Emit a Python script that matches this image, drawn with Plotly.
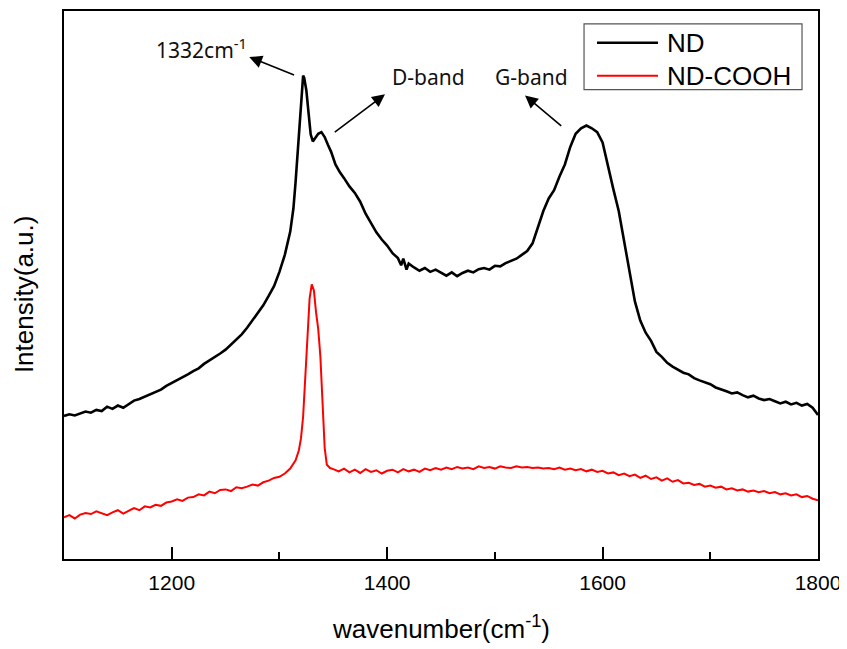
import plotly.graph_objects as go

# ---- data ----
nd_wavenumber = [1100, 1105, 1110, 1115, 1120, 1125, 1130, 1135, 1140, 1145, 1150, 1155, 1160, 1165, 1170, 1175,
                 1180, 1185, 1190, 1195, 1200, 1205, 1210, 1215, 1220, 1225, 1230, 1235, 1240, 1245, 1250, 1255,
                 1260, 1265, 1270, 1275, 1280, 1285, 1290, 1295, 1300, 1305, 1310, 1313, 1315, 1317, 1319, 1321,
                 1322, 1323, 1325, 1327, 1329, 1331, 1333, 1336, 1339, 1342, 1345, 1348, 1352, 1356, 1360, 1365,
                 1370, 1375, 1380, 1385, 1390, 1395, 1400, 1405, 1410, 1413, 1415, 1418, 1420, 1425, 1430, 1435,
                 1440, 1445, 1450, 1455, 1460, 1465, 1470, 1475, 1480, 1485, 1490, 1495, 1500, 1505, 1510, 1515,
                 1520, 1525, 1530, 1535, 1540, 1545, 1550, 1555, 1560, 1565, 1570, 1575, 1580, 1585, 1590, 1595,
                 1600, 1605, 1610, 1615, 1620, 1625, 1630, 1635, 1640, 1645, 1650, 1655, 1660, 1665, 1670, 1675,
                 1680, 1685, 1690, 1695, 1700, 1705, 1710, 1715, 1720, 1725, 1730, 1735, 1740, 1745, 1750, 1755,
                 1760, 1765, 1770, 1775, 1780, 1785, 1790, 1795, 1800]
nd_intensity = [26.1, 26.4, 26.2, 26.6, 26.9, 26.7, 27.2, 27.0, 27.8, 27.4, 28.0, 27.6, 28.3, 28.9, 29.2, 29.6,
                30.0, 30.4, 30.9, 31.6, 32.1, 32.6, 33.2, 33.7, 34.3, 34.8, 35.6, 36.2, 36.9, 37.5, 38.2, 39.1,
                40.0, 41.0, 42.2, 43.5, 44.9, 46.3, 48.0, 49.8, 52.4, 55.5, 59.7, 64.0, 68.8, 74.0, 79.7, 86.0,
                88.2, 87.8, 85.5, 81.5, 77.5, 76.2, 76.8, 77.6, 77.9, 77.0, 75.6, 74.3, 72.0, 70.6, 69.5, 68.0,
                66.8, 65.2, 63.0, 61.3, 59.6, 58.3, 57.2, 55.8, 54.9, 53.6, 54.8, 52.8, 53.9, 53.2, 52.6, 53.1,
                52.4, 52.8, 52.2, 51.7, 52.3, 51.6, 52.2, 52.6, 52.3, 52.9, 53.1, 52.8, 53.5, 53.4, 54.0, 54.4,
                54.8, 55.5, 56.2, 57.6, 60.5, 63.5, 65.8, 67.3, 69.8, 72.0, 75.2, 77.6, 78.6, 79.1, 78.6, 77.9,
                76.0, 71.5, 67.5, 63.5, 58.0, 53.0, 47.0, 43.5, 41.3, 39.8, 37.8, 36.9, 35.8, 35.1, 34.6, 34.0,
                33.7, 33.0, 32.6, 32.2, 31.9, 31.3, 31.0, 30.6, 30.2, 30.4, 29.9, 29.5, 29.8, 29.3, 29.0, 29.2,
                28.8, 28.4, 28.7, 28.2, 28.5, 28.0, 28.3, 27.6, 26.3]

cooh_wavenumber = [1100, 1105, 1110, 1115, 1120, 1125, 1130, 1135, 1140, 1145, 1150, 1155, 1160, 1165, 1170, 1175,
                   1180, 1185, 1190, 1195, 1200, 1205, 1210, 1215, 1220, 1225, 1230, 1235, 1240, 1245, 1250, 1255,
                   1260, 1265, 1270, 1275, 1280, 1285, 1290, 1295, 1300, 1305, 1310, 1315, 1318, 1320, 1322, 1324,
                   1326, 1328, 1330, 1332, 1334, 1336, 1338, 1340, 1342, 1344, 1347, 1350, 1355, 1360, 1365, 1370,
                   1375, 1380, 1385, 1390, 1395, 1400, 1405, 1410, 1415, 1420, 1425, 1430, 1435, 1440, 1445, 1450,
                   1455, 1460, 1465, 1470, 1475, 1480, 1485, 1490, 1495, 1500, 1505, 1510, 1515, 1520, 1525, 1530,
                   1535, 1540, 1545, 1550, 1555, 1560, 1565, 1570, 1575, 1580, 1585, 1590, 1595, 1600, 1605, 1610,
                   1615, 1620, 1625, 1630, 1635, 1640, 1645, 1650, 1655, 1660, 1665, 1670, 1675, 1680, 1685, 1690,
                   1695, 1700, 1705, 1710, 1715, 1720, 1725, 1730, 1735, 1740, 1745, 1750, 1755, 1760, 1765, 1770,
                   1775, 1780, 1785, 1790, 1795, 1800]
cooh_intensity = [7.6, 8.0, 7.4, 8.1, 8.4, 8.2, 8.7, 8.4, 8.0, 8.5, 8.9, 8.3, 8.8, 9.3, 8.9, 9.6,
                  9.4, 9.9, 9.7, 10.3, 10.5, 10.9, 10.6, 11.2, 11.3, 11.8, 11.6, 12.3, 12.0, 12.6, 12.7, 12.4,
                  13.1, 12.9, 13.2, 13.6, 13.4, 14.0, 14.3, 14.8, 15.0, 15.6, 16.5, 18.0, 19.8, 22.0, 26.0, 33.0,
                  42.1, 47.5, 50.1, 49.0, 45.0, 42.0, 37.0, 27.5, 20.3, 17.2, 16.6, 16.4, 16.0, 16.5, 15.8, 16.3,
                  15.7, 16.4, 15.9, 16.2, 15.6, 16.1, 16.3, 15.8, 16.4, 16.0, 16.3, 15.9, 16.5, 16.2, 16.6, 16.3,
                  16.7, 16.4, 16.8, 16.5, 16.7, 16.4, 16.9, 16.6, 16.8, 16.5, 16.9, 16.7, 16.6, 16.9, 16.7, 16.8,
                  16.6, 16.7, 16.5, 16.6, 16.4, 16.7, 16.3, 16.5, 16.2, 16.4, 16.0, 16.3, 15.9, 16.1, 15.6, 15.8,
                  15.3, 15.6, 15.1, 15.4, 14.8, 15.2, 14.6, 14.9, 14.3, 14.7, 14.1, 14.4, 13.8, 13.9, 13.5, 13.7,
                  13.2, 13.4, 13.0, 13.2, 12.7, 12.9, 12.5, 12.7, 12.3, 12.5, 12.2, 12.4, 12.0, 12.2, 11.8, 12.0,
                  11.6, 11.8, 11.3, 11.5, 11.0, 10.7]

series_names = ["ND", "ND-COOH"]
series_colors = ["#000000", "#ff0000"]
x_tick_values = [1200, 1400, 1600, 1800]
x_tick_labels = ["1200", "1400", "1600", "1800"]

# annotation labels: (text, x, y) and arrows: (head_x, head_y, tail_x, tail_y)
label_texts = ["1332cm<sup>-1</sup>", "D-band", "G-band"]
label_x = [1228, 1438, 1534]
label_y = [93.1, 88.0, 88.0]
arrow_head_x = [1272, 1398, 1528]
arrow_head_y = [91.6, 84.8, 84.6]
arrow_tail_x = [1315, 1350, 1563]
arrow_tail_y = [88.2, 77.7, 78.8]

fig = go.Figure()
fig.add_trace(go.Scatter(x=nd_wavenumber, y=nd_intensity, mode="lines", name=series_names[0],
                         line=dict(color=series_colors[0], width=2.6), showlegend=False))
fig.add_trace(go.Scatter(x=cooh_wavenumber, y=cooh_intensity, mode="lines", name=series_names[1],
                         line=dict(color=series_colors[1], width=2), showlegend=False))

annot_font = dict(family="Noto Sans, Open Sans, sans-serif", size=21, color="#111")
annotations = []
for t, x, y in zip(label_texts, label_x, label_y):
    annotations.append(dict(x=x, y=y, xref="x", yref="y", text=t, showarrow=False,
                            font=annot_font, xanchor="center", yanchor="middle"))
for hx, hy, tx, ty in zip(arrow_head_x, arrow_head_y, arrow_tail_x, arrow_tail_y):
    annotations.append(dict(x=hx, y=hy, ax=tx, ay=ty, xref="x", yref="y", axref="x", ayref="y",
                            text="", showarrow=True, arrowhead=2, arrowsize=1.6, arrowwidth=1.6,
                            arrowcolor="#000"))

# axis titles
title_font = dict(family="Liberation Sans, Arial, sans-serif", size=26, color="#000")
annotations.append(dict(x=0.5, y=-0.125, xref="paper", yref="paper", text="wavenumber(cm<sup>-1</sup>)",
                        showarrow=False, font=title_font, xanchor="center", yanchor="middle"))
annotations.append(dict(x=-0.052, y=0.483, xref="paper", yref="paper", text="Intensity(a.u.)",
                        showarrow=False, font=title_font, textangle=-90, xanchor="center", yanchor="middle"))

# manual legend
leg_font = dict(family="Liberation Sans, Arial, sans-serif", size=26, color="#000")
leg_rows_y = [0.9419, 0.882]
shapes = [dict(type="rect", xref="paper", yref="paper", x0=0.6897, x1=0.9788, y0=0.8566, y1=0.9764,
               line=dict(color="#555", width=1.2), fillcolor="white", layer="above")]
for name, color, yy in zip(series_names, series_colors, leg_rows_y):
    shapes.append(dict(type="line", xref="paper", yref="paper", x0=0.7069, x1=0.7878, y0=yy, y1=yy,
                       line=dict(color=color, width=2.5 if color == "#000000" else 2), layer="above"))
    annotations.append(dict(x=0.797, y=yy, xref="paper", yref="paper", text=name, showarrow=False,
                            font=leg_font, xanchor="left", yanchor="middle"))

fig.update_layout(
    width=839, height=641,
    margin=dict(l=56, r=29, t=1, b=90),
    paper_bgcolor="white", plot_bgcolor="white",
    showlegend=False,
    annotations=annotations,
    shapes=shapes,
    xaxis=dict(range=[1100, 1800], showgrid=False, zeroline=False,
               showline=True, linecolor="#000", linewidth=2, mirror=True,
               ticks="inside", ticklen=12, tickwidth=2, tickcolor="#000",
               tickvals=x_tick_values, ticktext=x_tick_labels, ticklabelstandoff=4,
               ticklabeloverflow="allow",
               tickfont=dict(family="Liberation Sans, Arial, sans-serif", size=21, color="#000"),
               minor=dict(ticks="inside", ticklen=7, tickwidth=2, tickcolor="#000",
                          tickvals=[1300, 1500, 1700])),
    yaxis=dict(range=[0, 100], showgrid=False, zeroline=False,
               showline=True, linecolor="#000", linewidth=2, mirror=True,
               ticks="", showticklabels=False),
)

fig.write_html("out.html")
